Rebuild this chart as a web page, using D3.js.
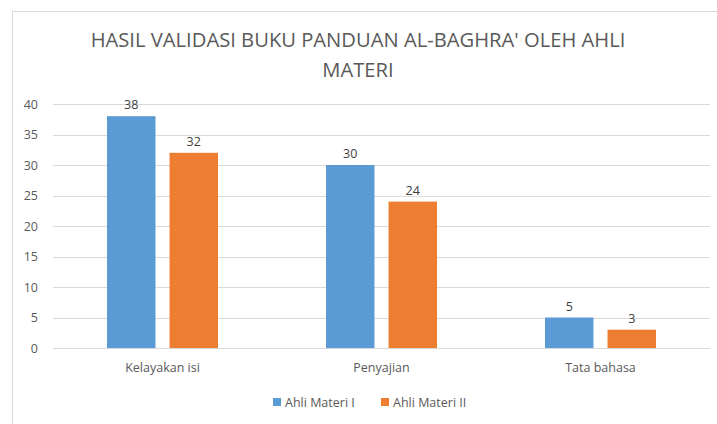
<!DOCTYPE html>
<html>
<head>
<meta charset="utf-8">
<script src="https://cdn.jsdelivr.net/npm/d3@7"></script>
<style>
  html, body { margin: 0; padding: 0; background: #fff; }
  svg { display: block; font-family: "Open Sans", "Noto Sans", sans-serif; }
</style>
</head>
<body>
<svg id="chart" width="717" height="424"></svg>
<script>
// Chart data
const categories = ["Kelayakan isi", "Penyajian", "Tata bahasa"];
const seriesNames = ["Ahli Materi I", "Ahli Materi II"];
const ahliMateri1 = [38, 30, 5];
const ahliMateri2 = [32, 24, 3];
const yTicks = [0, 5, 10, 15, 20, 25, 30, 35, 40];
const titleLines = ["HASIL VALIDASI BUKU PANDUAN AL-BAGHRA' OLEH AHLI", "MATERI"];
const colors = ["#5B9BD5", "#ED7D31"];

const svg = d3.select("#chart");
const W = 717, H = 424;
const textColor = "#595959";

// Chart frame
svg.append("rect")
  .attr("x", 12.5).attr("y", 11.5)
  .attr("width", W + 10).attr("height", H + 10)
  .attr("fill", "#fff").attr("stroke", "#D9D9D9").attr("stroke-width", 1);

// Title
svg.append("g").selectAll("text")
  .data(titleLines)
  .join("text")
  .attr("x", 358)
  .attr("y", (d, i) => 47 + i * 30)
  .attr("text-anchor", "middle")
  .attr("fill", textColor)
  .attr("font-size", 20.2)
  .attr("font-weight", 400)
  .text(d => d);

const plot = { left: 53, right: 710, top: 104, bottom: 348 };

const x0 = d3.scaleBand()
  .domain(categories)
  .range([plot.left, plot.right]);

const x1 = d3.scaleBand()
  .domain(seriesNames)
  .range([54, x0.bandwidth() - 54])
  .paddingInner(0.225);

const y = d3.scaleLinear()
  .domain([0, 40])
  .range([plot.bottom, plot.top]);

// Gridlines
svg.append("g")
  .selectAll("line")
  .data(yTicks)
  .join("line")
  .attr("x1", plot.left).attr("x2", plot.right)
  .attr("y1", d => Math.round(y(d)) + 0.5)
  .attr("y2", d => Math.round(y(d)) + 0.5)
  .attr("stroke", "#D9D9D9").attr("stroke-width", 1);

// Y axis labels
const yAxis = d3.axisLeft(y).tickValues(yTicks).tickSize(0).tickPadding(0);
const gy = svg.append("g").attr("transform", `translate(38,0)`).call(yAxis);
gy.select(".domain").remove();
gy.selectAll("text")
  .attr("fill", textColor)
  .attr("font-size", 12.5)
  .attr("font-family", "'Open Sans', sans-serif");

// X axis labels
const xAxis = d3.axisBottom(x0).tickSize(0).tickPadding(0);
const gx = svg.append("g").attr("transform", `translate(0,${plot.bottom + 15})`).call(xAxis);
gx.select(".domain").remove();
gx.selectAll("text")
  .attr("fill", textColor)
  .attr("font-size", 12.5)
  .attr("font-family", "'Open Sans', sans-serif");

// Bars
const rows = categories.map((c, i) => ({
  category: c,
  values: [
    { series: seriesNames[0], value: ahliMateri1[i], color: colors[0] },
    { series: seriesNames[1], value: ahliMateri2[i], color: colors[1] }
  ]
}));

const groups = svg.append("g")
  .selectAll("g")
  .data(rows)
  .join("g")
  .attr("transform", d => `translate(${x0(d.category)},0)`);

groups.selectAll("rect")
  .data(d => d.values)
  .join("rect")
  .attr("x", d => x1(d.series))
  .attr("width", x1.bandwidth())
  .attr("y", d => y(d.value))
  .attr("height", d => y(0) - y(d.value))
  .attr("fill", d => d.color);

// Value labels
groups.selectAll("text")
  .data(d => d.values)
  .join("text")
  .attr("x", d => x1(d.series) + x1.bandwidth() / 2)
  .attr("y", d => y(d.value) - 7)
  .attr("text-anchor", "middle")
  .attr("fill", "#404040")
  .attr("font-size", 12.5)
  .text(d => d.value);

// Legend
const legendItems = [
  { name: seriesNames[0], color: colors[0], x: 273 },
  { name: seriesNames[1], color: colors[1], x: 381 }
];
const lg = svg.append("g")
  .selectAll("g")
  .data(legendItems)
  .join("g")
  .attr("transform", d => `translate(${d.x},398)`);
lg.append("rect")
  .attr("width", 8).attr("height", 8)
  .attr("fill", d => d.color);
lg.append("text")
  .attr("x", 12).attr("y", 8.5)
  .attr("fill", textColor)
  .attr("font-size", 12.5)
  .text(d => d.name);
</script>
</body>
</html>
